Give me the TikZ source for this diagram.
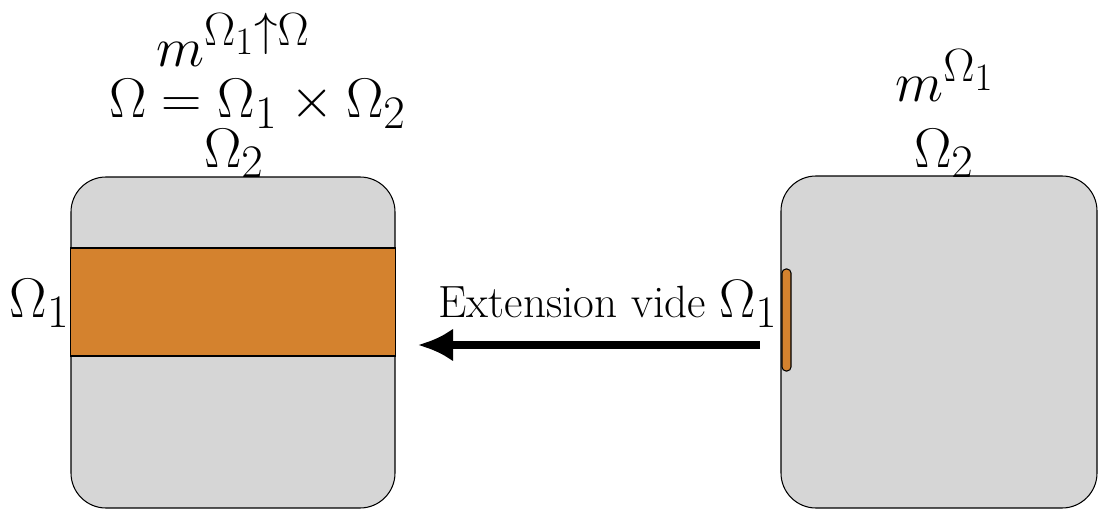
\documentclass[tikz,border=0pt]{standalone}
\usetikzlibrary{arrows.meta}
\definecolor{bandorange}{RGB}{212,130,46}
\definecolor{domgray}{RGB}{214,214,214}
\begin{document}
\begin{tikzpicture}[dom/.style={draw=black,line width=0.6pt,fill=domgray,rounded corners=0.7cm,inner sep=0pt},band/.style={draw=black,line width=0.6pt,fill=bandorange},bar/.style={band,rounded corners=0.08cm,inner sep=0pt,minimum width=0.18cm,minimum height=2.04cm},lab/.style={font=\Huge,scale=1.28,inner sep=0pt},ext/.style={line width=0.16cm,-{Latex[length=0.7cm,width=0.66cm]}}]
\def\yb{3.28};
\useasboundingbox (0,0) rectangle (21.96,10.18);

% left domain
\node[dom,minimum width=6.48cm,minimum height=6.62cm] (L) at (4.66,3.33) {};
\draw[band] (L.west |- 0,5.22) rectangle (L.east |- 0,3.06);
\node[lab,anchor=base east] (L1) at (1.40,3.84) {$\Omega_1$};
\node[lab,anchor=base] (L2) at (4.68,6.84) {$\Omega_2$};
\node[lab,anchor=base] (Lp) at (5.15,7.82) {$\Omega=\Omega_1\times\Omega_2$};
\node[lab,anchor=base] (Lm) at (4.66,8.86) {$m^{\Omega_1\uparrow\Omega}$};

% right domain
\node[dom,minimum width=6.32cm,minimum height=6.64cm] (R) at (18.78,3.34) {};
\node[bar] (R1) at (15.73,3.78) {};
\node[lab,anchor=base] (R2) at (18.88,6.84) {$\Omega_2$};
\node[lab,anchor=base] (Rm) at (18.9,8.14) {$m^{\Omega_1}$};

% extension
\coordinate (a) at (15.2,\yb);
\coordinate (b) at (8.36,\yb);
\draw[ext] (a) -- (b);
\node[anchor=base east,inner sep=0pt,font=\huge,scale=1.24] (E) at (15.56,3.84) {Extension vide {\Huge$\Omega_1$}};
\end{tikzpicture}
\end{document}
